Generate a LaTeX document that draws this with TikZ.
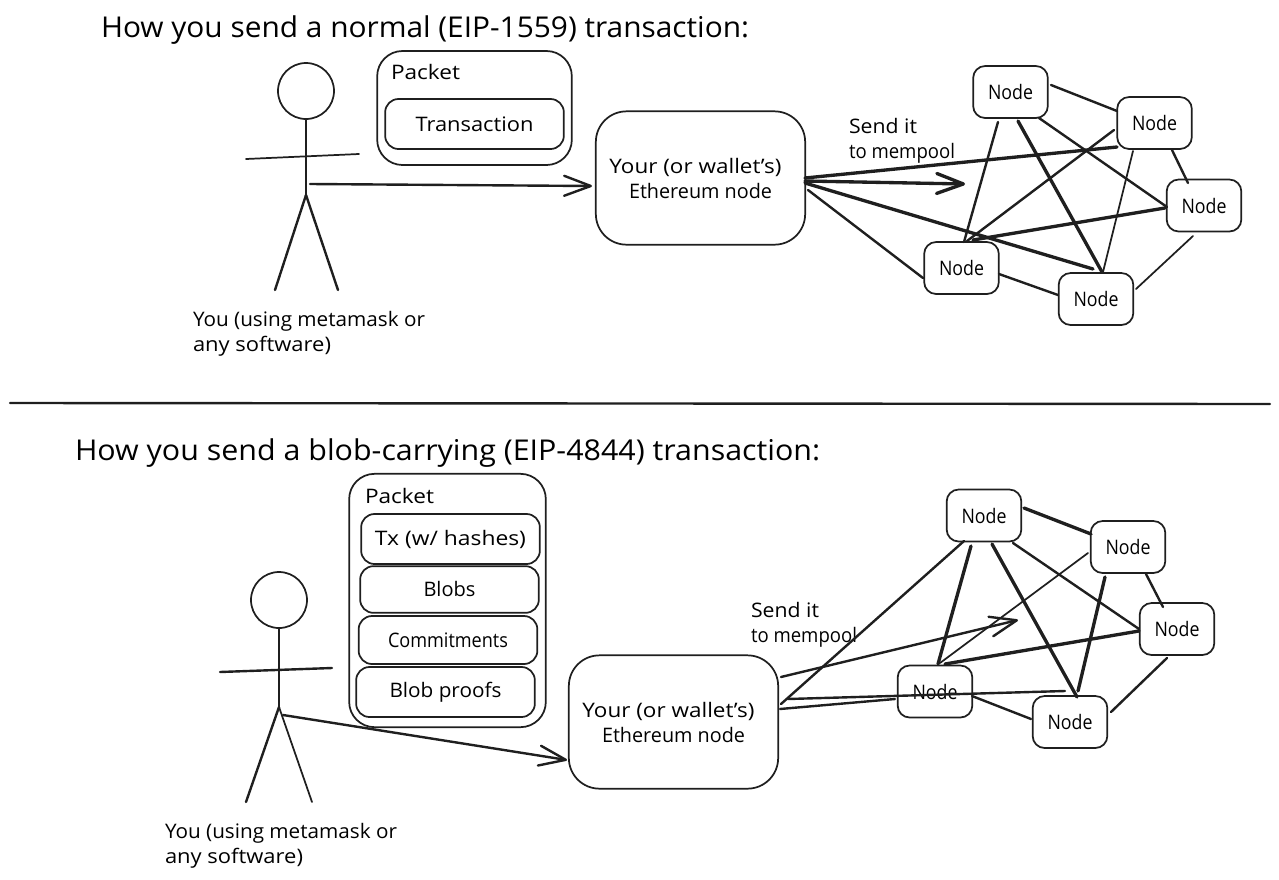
\documentclass[tikz,border=0pt]{standalone}
\usepackage{graphicx}
\usepackage{fontspec}
\setmainfont{Open Sans}
\usetikzlibrary{arrows.meta}
% Offset from the centre of a named node, in drawing units
\newcommand\near[3]{([shift={(#2,#3)}]#1.center)}
% Set a text to a given width (in drawing units), stretching it sideways only
\newcommand\fitw[2]{\resizebox{#1\dimexpr 0.75pt\relax}{\height}{#2}}
\tikzset{
  ink/.style={draw=black!88, line width=1.3pt, line cap=round, line join=round},
  wire/.style={ink},
  wirebold/.style={ink, line width=1.8pt},
  wireheavy/.style={ink, line width=2.5pt},
  barb/.style={-{Straight Barb[length=20pt,width=15pt,round]}},
  box/.style={ink, rectangle, inner sep=0pt, outer sep=0pt, align=center},
  peer/.style={box, minimum width=56pt, minimum height=39pt, rounded corners=9pt},
  gateway/.style={box, minimum width=157pt, minimum height=100pt, rounded corners=23pt},
  bag/.style={box, rounded corners=19pt},
  item/.style={box, minimum width=134pt, rounded corners=10pt},
  label/.style={inner sep=0pt, outer sep=0pt, align=left, anchor=west},
  body/.style={font=\fontsize{15}{18.75}\selectfont},
  heading/.style={font=\fontsize{21.5}{25}\selectfont},
  person/.style={ink, circle, minimum size=42pt, inner sep=0pt, outer sep=0pt},
}
\newcommand\peername{\fitw{45}{Node}}
\newcommand\gatewaytext{\fitw{172}{Your (or wallet's)}\hspace*{7.5pt}\\\fitw{143}{Ethereum node}}
\newcommand\usertext{\fitw{232}{You (using metamask or}\\\fitw{138}{any software)}}
\newcommand\sendtext{\fitw{68}{Send it}\\\fitw{106}{to mempool}}
\begin{document}
\begin{tikzpicture}[x=0.75pt, y=-0.75pt, body]
\useasboundingbox (0,0) rectangle (1279,879);

% Upper panel: normal transaction
\node[label, heading] (title1) at (101,30) {\fitw{648}{How you send a normal (EIP-1559) transaction:}};
\node[person] (head1) at (306,91) {};
\coordinate (hip1) at (306,195);
\coordinate (handL1) at (246,159);
\coordinate (handR1) at (359,154);
\coordinate (footL1) at (275,290);
\coordinate (footR1) at (338,290);
\draw[wire] (head1.south) -- (hip1);
\draw[wire] (handL1) -- (handR1);
\draw[wirebold] (hip1) -- (footL1);
\draw[wirebold] (hip1) -- (footR1);
\node[label] (you1) at (193,333.5) {\usertext};

\node[bag, minimum width=146pt, minimum height=85.5pt] (packet1) at (474.5,108) {};
\node[label] (packetlabel1) at (391,72) {\fitw{69}{Packet}};
\node[item, minimum height=37.5pt] (tx1) at (474.5,124) {\fitw{118}{Transaction}};

\node[gateway] (te) at (700.5,178) {\gatewaytext};
\coordinate (send1) at (592,186);
\coordinate (start1) at (310,184);
\draw[wirebold, barb] (start1) -- (send1);

\node[label] (mempool1) at (849,141) {\sendtext};

\node[peer] (t1) at (1010.5,92) {\peername};
\node[peer] (t2) at (1154.5,123) {\peername};
\node[peer] (t3) at (1204,205.5) {\peername};
\node[peer] (t4) at (961.5,268) {\peername};
\node[peer] (t5) at (1096,299) {\peername};

\draw[wirebold] \near{t1}{40.5}{-7} -- \near{t2}{-37.5}{-12};
\draw[wirebold] \near{t1}{-12.5}{30} -- \near{t4}{2.5}{-26};
\draw[wireheavy] \near{t1}{7.5}{29} -- \near{t5}{6}{-27};
\draw[wirebold] \near{t1}{28.5}{26} -- \near{t3}{-37}{1.5};
\draw[wirebold] \near{t2}{-40.5}{7} -- \near{t4}{5.5}{-27};
\draw[wire] \near{t2}{-21.5}{28} -- \near{t5}{7}{-27};
\draw[wirebold] \near{t2}{17.5}{27} -- \near{t3}{-16}{-22.5};
\draw[wireheavy] \near{t3}{-39}{2.5} -- \near{t4}{11.5}{-28};
\draw[wire] \near{t3}{-11}{30.5} -- \near{t5}{40}{-10};
\draw[wirebold] \near{t4}{37.5}{6} -- \near{t5}{-38}{-4};
\draw[wireheavy] \near{te}{104.5}{0} -- \near{t2}{-37.5}{24};
\coordinate (mempoolA) at (965,184);
\draw[wireheavy, barb] \near{te}{104.5}{3} -- (mempoolA);
\draw[wireheavy] \near{te}{104.5}{5} -- \near{t5}{-3}{-30};
\draw[wirebold] \near{te}{107.5}{12} -- \near{t4}{-38.5}{10};

% Divider between the panels
\coordinate (ruleL) at (10,403);
\coordinate (ruleR) at (1270,404);
\draw[wirebold] (ruleL) -- (ruleR);

% Lower panel: blob-carrying transaction
\node[label, heading] (title2) at (75,453) {\fitw{745}{How you send a blob-carrying (EIP-4844) transaction:}};
\node[person] (head2) at (279,600) {};
\coordinate (hip2) at (279,707);
\coordinate (handL2) at (220,672);
\coordinate (handR2) at (332,668);
\coordinate (footL2) at (246,802);
\coordinate (footR2) at (312,802);
\draw[wire] (head2.south) -- (hip2);
\draw[wirebold] (handL2) -- (handR2);
\draw[wirebold] (hip2) -- (footL2);
\draw[wire] (hip2) -- (footR2);
\node[label] (you2) at (165,845.5) {\usertext};

\node[bag, minimum width=147.5pt, minimum height=190pt] (packet2) at (447.5,600.5) {};
\node[label] (packetlabel2) at (365,496) {\fitw{69}{Packet}};
\node[item, minimum height=37.5pt] (txh) at (450.5,539) {\fitw{151}{Tx (w/ hashes)}};
\node[item, minimum height=35pt] (blobs) at (449.5,589.5) {\raisebox{1.5pt}{\fitw{52}{Blobs}}};
\node[item, minimum height=36pt] (commit) at (448,640) {\fitw{120}{Commitments}};
\node[item, minimum height=37.5pt] (proofs) at (445.5,692) {\fitw{112}{Blob proofs}};

\node[gateway] (be) at (673.5,722) {\gatewaytext};
\coordinate (send2) at (567,760);
\coordinate (start2) at (283,715);
\draw[wirebold, barb] (start2) -- (send2);

\node[label] (mempool2) at (751,625) {\sendtext};

\node[peer] (b1) at (984,515.5) {\peername};
\node[peer] (b2) at (1128,547) {\peername};
\node[peer] (b3) at (1177,629) {\peername};
\node[peer] (b4) at (935,691.5) {\peername};
\node[peer] (b5) at (1070,722) {\peername};

\draw[wireheavy] \near{b1}{40}{-7.5} -- \near{b2}{-37}{-13};
\draw[wirebold] \near{b1}{-20}{25.5} -- \near{be}{107.5}{-18};
\draw[wireheavy] \near{b1}{-13}{30.5} -- \near{b4}{3}{-27.5};
\draw[wireheavy] \near{b1}{8}{28.5} -- \near{b5}{7}{-25};
\draw[wirebold] \near{b1}{29}{27.5} -- \near{b3}{-38}{0};
\draw[wire] \near{b2}{-40}{6} -- \near{b4}{5}{-28.5};
\draw[wireheavy] \near{b2}{-23}{30} -- \near{b5}{8}{-31};
\draw[wirebold] \near{b2}{18}{27} -- \near{b3}{-14}{-22};
\draw[wireheavy] \near{b3}{-38}{2} -- \near{b4}{10}{-27.5};
\draw[wirebold] \near{b3}{-10}{29} -- \near{b5}{41}{-10};
\draw[wirebold] \near{b4}{37}{4.5} -- \near{b5}{-39}{-3};
\coordinate (mempoolB) at (1018,620);
\draw[wirebold, barb] \near{be}{107.5}{-45} -- (mempoolB);
\draw[wirebold] \near{be}{106.5}{-13} -- \near{b4}{-40}{7.5};
\draw[wirebold] \near{be}{114.5}{-23} -- \near{b5}{-5}{-31};
\end{tikzpicture}
\end{document}
